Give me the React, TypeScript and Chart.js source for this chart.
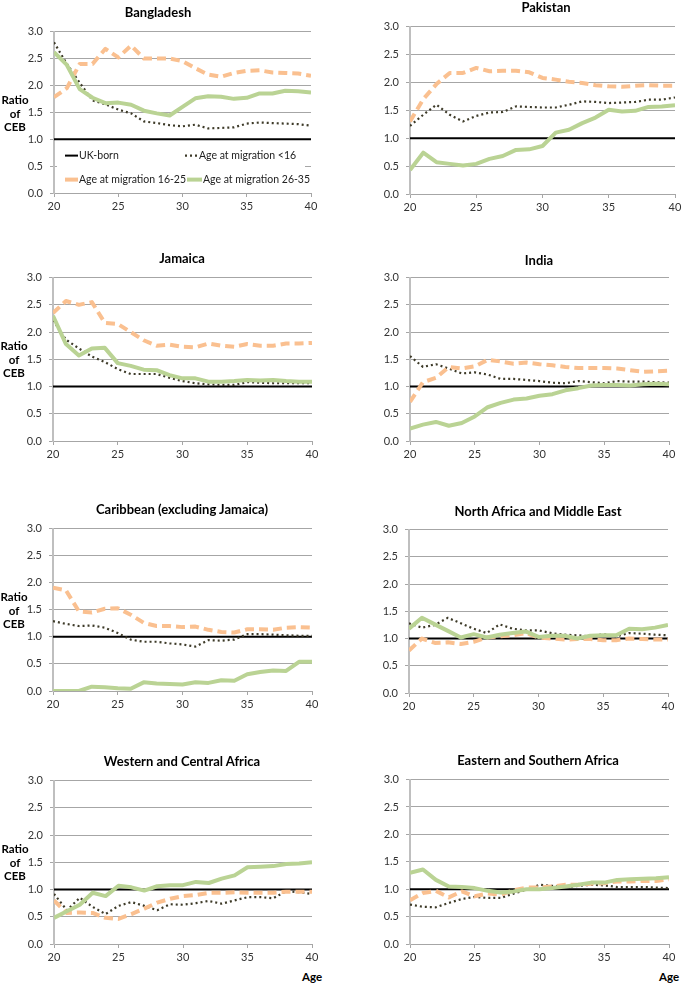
import React, { useEffect, useRef } from 'react';
import { Chart, registerables } from 'chart.js';
Chart.register(...registerables);

const ages = [20, 21, 22, 23, 24, 25, 26, 27, 28, 29, 30, 31, 32, 33, 34, 35, 36, 37, 38, 39, 40];
const yTicks = [0, 0.5, 1, 1.5, 2, 2.5, 3];
const xTicks = [20, 25, 30, 35, 40];
const seriesNames = ['UK-born', 'Age at migration <16', 'Age at migration 16-25', 'Age at migration 26-35'];

const ukBorn = [1, 1, 1, 1, 1, 1, 1, 1, 1, 1, 1, 1, 1, 1, 1, 1, 1, 1, 1, 1, 1];

const bangladeshLt16 = [2.8, 2.4, 2.05, 1.72, 1.65, 1.55, 1.48, 1.33, 1.3, 1.26, 1.24, 1.27, 1.2, 1.21, 1.22, 1.29, 1.31, 1.3, 1.29, 1.28, 1.25];
const bangladesh1625 = [1.78, 1.95, 2.4, 2.4, 2.68, 2.52, 2.74, 2.5, 2.5, 2.5, 2.45, 2.32, 2.2, 2.16, 2.23, 2.27, 2.28, 2.24, 2.23, 2.22, 2.18];
const bangladesh2635 = [2.62, 2.38, 1.93, 1.77, 1.67, 1.68, 1.64, 1.53, 1.48, 1.44, 1.6, 1.76, 1.8, 1.79, 1.75, 1.77, 1.85, 1.85, 1.9, 1.89, 1.87];

const pakistanLt16 = [1.22, 1.42, 1.6, 1.42, 1.3, 1.4, 1.46, 1.47, 1.57, 1.56, 1.55, 1.55, 1.6, 1.66, 1.65, 1.63, 1.64, 1.65, 1.69, 1.69, 1.73];
const pakistan1625 = [1.3, 1.7, 1.97, 2.17, 2.17, 2.26, 2.2, 2.21, 2.21, 2.18, 2.08, 2.05, 2.01, 1.99, 1.95, 1.93, 1.92, 1.94, 1.95, 1.94, 1.94];
const pakistan2635 = [0.43, 0.74, 0.57, 0.54, 0.51, 0.54, 0.63, 0.68, 0.79, 0.8, 0.86, 1.1, 1.15, 1.27, 1.37, 1.51, 1.48, 1.49, 1.56, 1.57, 1.59];

const jamaicaLt16 = [2.22, 1.86, 1.7, 1.55, 1.45, 1.32, 1.23, 1.23, 1.23, 1.16, 1.1, 1.06, 1.04, 1.03, 1.03, 1.08, 1.07, 1.06, 1.06, 1.06, 1.06];
const jamaica1625 = [2.35, 2.57, 2.5, 2.55, 2.17, 2.15, 2.0, 1.85, 1.75, 1.77, 1.73, 1.72, 1.79, 1.75, 1.73, 1.78, 1.75, 1.75, 1.79, 1.79, 1.8];
const jamaica2635 = [2.3, 1.78, 1.57, 1.7, 1.71, 1.43, 1.38, 1.31, 1.3, 1.21, 1.15, 1.15, 1.09, 1.09, 1.1, 1.12, 1.11, 1.12, 1.1, 1.09, 1.09];

const indiaLt16 = [1.56, 1.36, 1.41, 1.33, 1.24, 1.26, 1.22, 1.14, 1.14, 1.12, 1.1, 1.07, 1.06, 1.1, 1.08, 1.06, 1.1, 1.09, 1.09, 1.08, 1.07];
const india1625 = [0.72, 1.08, 1.16, 1.36, 1.33, 1.37, 1.49, 1.46, 1.42, 1.44, 1.41, 1.39, 1.36, 1.34, 1.34, 1.34, 1.33, 1.3, 1.27, 1.28, 1.29];
const india2635 = [0.23, 0.3, 0.35, 0.28, 0.33, 0.45, 0.62, 0.7, 0.76, 0.78, 0.83, 0.86, 0.93, 0.97, 1.02, 1.03, 1.03, 1.02, 1.04, 1.05, 1.04];

const caribbeanLt16 = [1.29, 1.24, 1.2, 1.21, 1.17, 1.07, 0.95, 0.91, 0.91, 0.88, 0.86, 0.82, 0.94, 0.93, 0.95, 1.05, 1.05, 1.04, 1.03, 1.02, 1.02];
const caribbean1625 = [1.91, 1.86, 1.47, 1.45, 1.52, 1.53, 1.41, 1.26, 1.2, 1.2, 1.18, 1.19, 1.13, 1.09, 1.08, 1.14, 1.14, 1.13, 1.17, 1.18, 1.17];
const caribbean2635 = [0.0, 0.0, 0.0, 0.08, 0.07, 0.05, 0.04, 0.16, 0.14, 0.13, 0.12, 0.16, 0.15, 0.2, 0.19, 0.31, 0.35, 0.38, 0.37, 0.54, 0.54];

const nameLt16 = [1.28, 1.2, 1.25, 1.38, 1.28, 1.18, 1.1, 1.26, 1.18, 1.15, 1.15, 1.1, 1.07, 1.06, 1.04, 1.08, 1.04, 1.1, 1.09, 1.07, 1.06];
const name1625 = [0.78, 1.0, 0.92, 0.93, 0.9, 0.94, 1.02, 1.04, 1.06, 1.1, 1.02, 1.0, 0.98, 0.99, 0.99, 0.97, 0.97, 1.0, 0.99, 0.98, 0.98];
const name2635 = [1.18, 1.38, 1.26, 1.14, 1.02, 1.08, 1.02, 1.07, 1.1, 1.13, 1.03, 1.05, 1.05, 1.0, 1.05, 1.06, 1.06, 1.18, 1.17, 1.2, 1.25];

const wcAfricaLt16 = [0.92, 0.62, 0.85, 0.68, 0.55, 0.7, 0.77, 0.7, 0.62, 0.73, 0.72, 0.75, 0.79, 0.74, 0.8, 0.86, 0.86, 0.84, 0.97, 0.95, 0.92];
const wcAfrica1625 = [0.8, 0.57, 0.58, 0.57, 0.48, 0.46, 0.55, 0.65, 0.76, 0.83, 0.88, 0.9, 0.94, 0.94, 0.95, 0.94, 0.94, 0.94, 0.96, 0.96, 0.96];
const wcAfrica2635 = [0.48, 0.6, 0.72, 0.94, 0.88, 1.07, 1.04, 0.98, 1.06, 1.08, 1.08, 1.14, 1.12, 1.2, 1.26, 1.41, 1.42, 1.43, 1.47, 1.48, 1.5];

const esAfricaLt16 = [0.72, 0.68, 0.67, 0.75, 0.82, 0.86, 0.84, 0.84, 0.92, 0.99, 1.08, 1.06, 1.04, 1.06, 1.08, 1.07, 1.04, 1.04, 1.04, 1.03, 1.02];
const esAfrica1625 = [0.8, 0.93, 0.97, 0.85, 0.96, 0.87, 0.92, 0.9, 0.98, 1.03, 1.03, 1.05, 1.08, 1.08, 1.1, 1.11, 1.14, 1.14, 1.15, 1.15, 1.18];
const esAfrica2635 = [1.3, 1.36, 1.17, 1.05, 1.04, 1.02, 0.97, 0.94, 0.96, 1.0, 1.0, 1.02, 1.05, 1.08, 1.12, 1.12, 1.17, 1.18, 1.19, 1.2, 1.22];

const FONT = 'Lato, "Open Sans", "DejaVu Sans", sans-serif';

type PanelDef = {
  title: string;
  lt16: number[];
  m1625: number[];
  m2635: number[];
  L: number; R: number; T: number; B: number;
  titleX: number; titleY: number;
  ratio?: boolean; age?: boolean; legend?: boolean;
};

const panels: PanelDef[] = [
  { title: 'Bangladesh', lt16: bangladeshLt16, m1625: bangladesh1625, m2635: bangladesh2635, L: 54, R: 311, T: 30, B: 193, titleX: 158, titleY: 12, ratio: true, legend: true },
  { title: 'Pakistan', lt16: pakistanLt16, m1625: pakistan1625, m2635: pakistan2635, L: 410, R: 675, T: 25, B: 194, titleX: 546, titleY: 7 },
  { title: 'Jamaica', lt16: jamaicaLt16, m1625: jamaica1625, m2635: jamaica2635, L: 53, R: 312, T: 276, B: 441, titleX: 182, titleY: 258, ratio: true },
  { title: 'India', lt16: indiaLt16, m1625: india1625, m2635: india2635, L: 410, R: 669, T: 276, B: 441, titleX: 539, titleY: 260 },
  { title: 'Caribbean (excluding Jamaica)', lt16: caribbeanLt16, m1625: caribbean1625, m2635: caribbean2635, L: 53, R: 312, T: 527, B: 691, titleX: 182, titleY: 509, ratio: true },
  { title: 'North Africa and Middle East', lt16: nameLt16, m1625: name1625, m2635: name2635, L: 409, R: 668, T: 528, B: 693, titleX: 538, titleY: 511 },
  { title: 'Western and Central Africa', lt16: wcAfricaLt16, m1625: wcAfrica1625, m2635: wcAfrica2635, L: 54, R: 312, T: 779, B: 944, titleX: 182, titleY: 761, ratio: true, age: true },
  { title: 'Eastern and Southern Africa', lt16: esAfricaLt16, m1625: esAfrica1625, m2635: esAfrica2635, L: 410, R: 669, T: 778, B: 944, titleX: 538, titleY: 760, age: true },
];

const STYLES = [
  { color: '#000000', width: 2, dash: [] as number[] },
  { color: '#3d3a28', width: 2.2, dash: [2, 3] },
  { color: '#fac090', width: 4, dash: [9, 5] },
  { color: '#bad394', width: 4, dash: [] as number[] },
];

const legendPlugin = {
  id: 'insideLegend',
  afterDatasetsDraw(chart: any, _args: any, opts: any) {
    if (!opts || !opts.show) return;
    const ctx = chart.ctx;
    const a = chart.chartArea;
    ctx.save();
    ctx.fillStyle = '#ffffff';
    ctx.fillRect(a.left + 3, a.top + 113, 248, 46);
    const items = [
      { dx: 11, dy: 124, len: 13, i: 0 },
      { dx: 131, dy: 124, len: 13, i: 1 },
      { dx: 11, dy: 148, len: 13, i: 2 },
      { dx: 133, dy: 148, len: 15, i: 3 },
    ];
    ctx.font = `10.5px ${FONT}`;
    ctx.textBaseline = 'middle';
    for (const it of items) {
      const ds = chart.data.datasets[it.i];
      const x = a.left + it.dx;
      const y = a.top + it.dy;
      ctx.beginPath();
      ctx.strokeStyle = ds.borderColor;
      ctx.lineWidth = ds.borderWidth;
      ctx.setLineDash(it.i === 2 ? [] : ds.borderDash || []);
      ctx.moveTo(x, y);
      ctx.lineTo(x + it.len, y);
      ctx.stroke();
      ctx.setLineDash([]);
      ctx.fillStyle = '#222222';
      ctx.fillText(ds.label, x + it.len + 1, y + 0.5);
    }
    ctx.restore();
  },
};

function Panel({ p }: { p: PanelDef }) {
  const ref = useRef<HTMLCanvasElement>(null);
  const w = p.R - p.L + 56;
  const h = p.B - p.T + 32;
  useEffect(() => {
    if (!ref.current) return;
    const series = [ukBorn, p.lt16, p.m1625, p.m2635];
    const chart = new Chart(ref.current, {
      type: 'line',
      data: {
        datasets: series.map((vals, si) => ({
          label: seriesNames[si],
          data: ages.map((a, i) => ({ x: a, y: vals[i] })),
          borderColor: STYLES[si].color,
          backgroundColor: STYLES[si].color,
          borderWidth: STYLES[si].width,
          borderDash: STYLES[si].dash,
          pointRadius: 0,
          tension: 0,
          fill: false,
          borderJoinStyle: 'round' as const,
          order: 4 - si,
        })),
      },
      options: {
        responsive: false,
        animation: false,
        devicePixelRatio: 1,
        events: [],
        layout: { padding: { top: 12, right: 12, left: 0, bottom: 0 } },
        scales: {
          x: {
            type: 'linear',
            min: 20,
            max: 40,
            afterFit: (s: any) => { s.height = 20; },
            afterBuildTicks: (s: any) => { s.ticks = xTicks.map((v) => ({ value: v })); },
            ticks: { font: { family: FONT, size: 11 }, color: '#333333', padding: 3, maxRotation: 0, autoSkip: false },
            grid: { drawOnChartArea: false, tickLength: 4, color: '#a6a6a6' },
            border: { color: '#a6a6a6', width: 1 },
          },
          y: {
            min: 0,
            max: 3,
            afterFit: (s: any) => { s.width = 44; },
            afterBuildTicks: (s: any) => { s.ticks = yTicks.map((v) => ({ value: v })); },
            ticks: {
              font: { family: FONT, size: 11 },
              color: '#333333',
              padding: 7,
              callback: (v: any) => Number(v).toFixed(1),
            },
            grid: { color: '#a6a6a6', tickLength: 4, lineWidth: 1 },
            border: { color: '#bfbfbf', width: 2 },
          },
        },
        plugins: {
          legend: { display: false },
          tooltip: { enabled: false },
          title: { display: false },
          insideLegend: { show: !!p.legend },
        } as any,
      } as any,
      plugins: [legendPlugin],
    });
    return () => chart.destroy();
  }, []);

  const bold = { fontFamily: FONT, fontWeight: 700, color: '#000' } as const;
  return (
    <>
      <canvas
        ref={ref}
        width={w}
        height={h}
        style={{ position: 'absolute', left: p.L - 44, top: p.T - 12, width: w, height: h }}
      />
      <div
        style={{
          ...bold,
          position: 'absolute',
          left: p.titleX - 160,
          width: 320,
          top: p.titleY - 8,
          fontSize: 13,
          lineHeight: '16px',
          textAlign: 'center',
        }}
      >
        {p.title}
      </div>
      {p.ratio && (
        <div
          style={{
            ...bold,
            position: 'absolute',
            left: p.L - 54,
            width: 30,
            top: p.T + 63,
            fontSize: 11.5,
            lineHeight: '13.5px',
            textAlign: 'center',
          }}
        >
          Ratio<br />of<br />CEB
        </div>
      )}
      {p.age && (
        <div
          style={{
            ...bold,
            position: 'absolute',
            left: p.R - 20,
            width: 40,
            top: p.B + 26,
            fontSize: 11.5,
            lineHeight: '14px',
            textAlign: 'center',
          }}
        >
          Age
        </div>
      )}
    </>
  );
}

export default function App() {
  return (
    <div style={{ position: 'absolute', left: 0, top: 0, width: 685, height: 984, background: '#ffffff' }}>
      {panels.map((p) => (
        <Panel key={p.title} p={p} />
      ))}
    </div>
  );
}
